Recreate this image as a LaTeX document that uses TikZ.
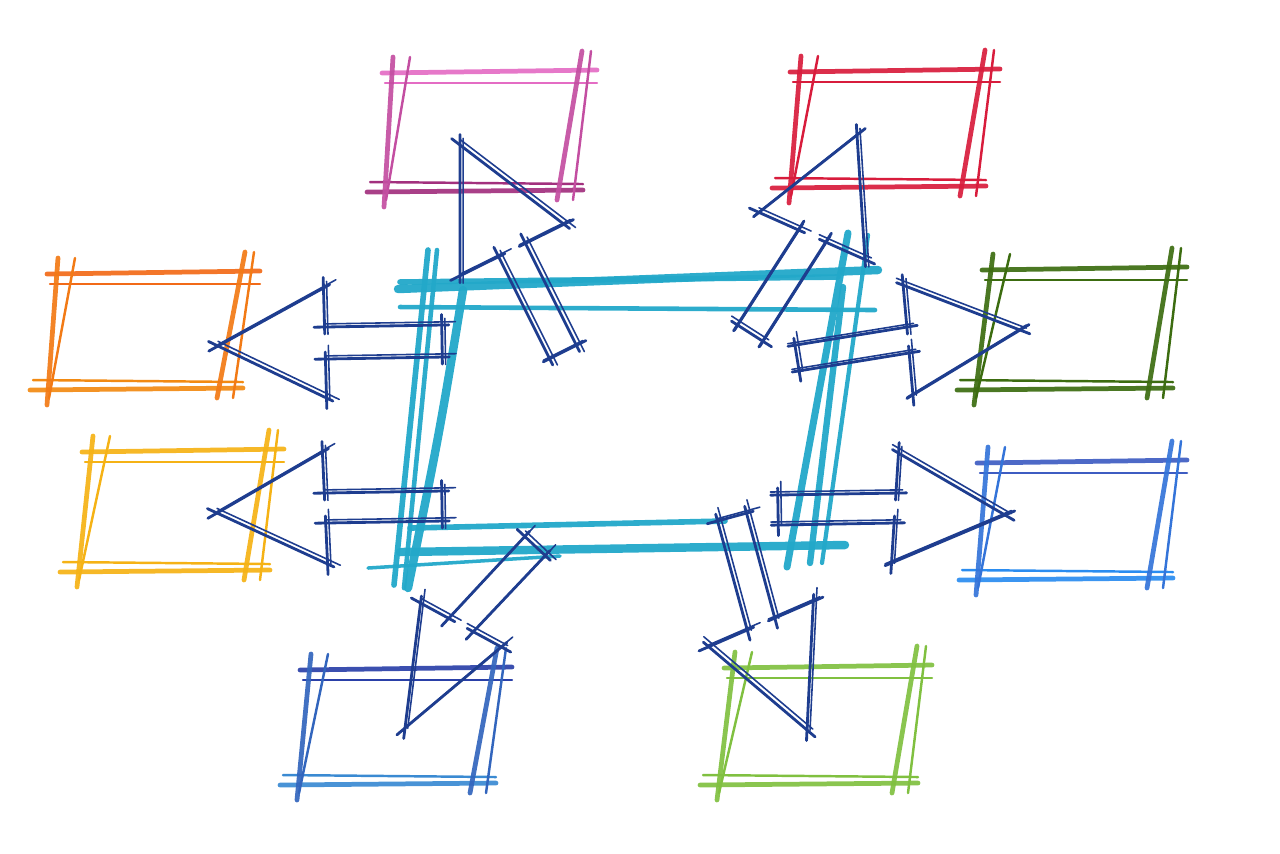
\documentclass[tikz,border=0pt]{standalone}
\usetikzlibrary{calc}

\definecolor{ink}{HTML}{1E3D8F}
\definecolor{hubcyan}{HTML}{22A8C9}
\definecolor{pinktop}{HTML}{E46CC4}
\definecolor{pinkbot}{HTML}{A2307E}
\definecolor{redbox}{HTML}{D81C3C}
\definecolor{orangetop}{HTML}{F26A18}
\definecolor{orangebot}{HTML}{F28A12}
\definecolor{dkgreen}{HTML}{3C6C10}
\definecolor{yellowbox}{HTML}{F5B215}
\definecolor{bluetop}{HTML}{3E5CC2}
\definecolor{bluebot}{HTML}{2A8CF0}
\definecolor{navytop}{HTML}{2A40A8}
\definecolor{navybot}{HTML}{3A8AD2}
\definecolor{lightgreen}{HTML}{80C040}

% one crayon stroke: a firm pass and a faint one beside it
\newcommand\crayon[3]{%
  \draw[#1,line width=.8pt,shorten <=-2pt,shorten >=-3pt] #2 -- #3;
  \draw[#1,line width=.45pt,shorten <=-3pt,shorten >=-1pt,
        transform canvas={xshift=.9pt,yshift=.9pt}] #2 -- #3;
}

% name, top y, bottom y, left x (top, bottom), right x (top, bottom), colours
\newcommand\crayonbox[9]{%
  \coordinate (#1-tl) at (#4,#2);
  \coordinate (#1-tr) at (#6,#2);
  \coordinate (#1-br) at (#7,#3);
  \coordinate (#1-bl) at (#5,#3);
  \draw[#8,crayonbold] ($(#1-tl)+(-18,0)$) -- ($(#1-tr)+(12,-3)$);
  \draw[#8,crayonfine] ($(#1-tl)+(-15,10)$) -- ($(#1-tr)+(12,10)$);
  \draw[#9,crayonfine] ($(#1-bl)+(-15,-10)$) -- ($(#1-br)+(18,-8)$);
  \draw[#9,crayonbold] ($(#1-bl)+(-18,0)$) -- ($(#1-br)+(18,-2)$);
  \draw[#8!50!#9,crayonbold] ($(#1-tl)+(-7,-16)$) -- ($(#1-bl)+(-1,15)$);
  \draw[#8!50!#9,crayonfine] ($(#1-tl)+(10,-16)$) -- ($(#1-bl)+(1,8)$);
  \draw[#8!50!#9,crayonbold] ($(#1-tr)+(-3,-22)$) -- ($(#1-br)+(-8,8)$);
  \draw[#8!50!#9,crayonfine] ($(#1-tr)+(6,-22)$) -- ($(#1-br)+(8,8)$);
}

% name, shaft start, head base, tip, shaft half width, head half width
\newcommand\blockarrow[6]{%
  \coordinate (#1-s) at #2;
  \coordinate (#1-b) at #3;
  \coordinate (#1-t) at #4;
  \coordinate (#1-s1) at ($(#1-s)!#5!90:(#1-b)$);
  \coordinate (#1-s2) at ($(#1-s)!#5!-90:(#1-b)$);
  \coordinate (#1-b1) at ($(#1-b)!#5!90:(#1-t)$);
  \coordinate (#1-b2) at ($(#1-b)!#5!-90:(#1-t)$);
  \coordinate (#1-h1) at ($(#1-b)!#6!90:(#1-t)$);
  \coordinate (#1-h2) at ($(#1-b)!#6!-90:(#1-t)$);
  \crayon{ink}{(#1-s1)}{(#1-s2)}
  \crayon{ink}{(#1-s1)}{(#1-b1)}
  \crayon{ink}{(#1-s2)}{(#1-b2)}
  \crayon{ink}{(#1-b1)}{(#1-h1)}
  \crayon{ink}{(#1-b2)}{(#1-h2)}
  \crayon{ink}{(#1-h1)}{(#1-t)}
  \crayon{ink}{(#1-h2)}{(#1-t)}
}

\begin{document}
\begin{tikzpicture}[x=0.01cm,y=-0.01cm,line cap=round]
  \tikzstyle{crayonbold}=[line width=1.35pt,opacity=.92]
  \tikzstyle{crayonfine}=[line width=.7pt]
  \tikzstyle{hubstroke}=[hubcyan,line width=2.4pt,opacity=.95]
  \useasboundingbox (0,0) rectangle (1280,853);

  % outer boxes
  \crayonbox{pink}{73}{192}{400}{385}{585}{565}{pinktop}{pinkbot}
  \crayonbox{red}{72}{188}{808}{790}{988}{968}{redbox}{redbox}
  \crayonbox{orange}{274}{390}{65}{48}{248}{225}{orangetop}{orangebot}
  \crayonbox{dkgreen}{270}{390}{1000}{975}{1175}{1155}{dkgreen}{dkgreen}
  \crayonbox{yellow}{452}{572}{100}{78}{272}{252}{yellowbox}{yellowbox}
  \crayonbox{blue}{463}{580}{995}{977}{1175}{1155}{bluetop}{bluebot}
  \crayonbox{navy}{670}{785}{318}{298}{500}{478}{navytop}{navybot}
  \crayonbox{green}{668}{785}{742}{718}{920}{900}{lightgreen}{lightgreen}

  % the hub in the middle
  \coordinate (hub-tl) at (430,288);
  \coordinate (hub-tr) at (858,275);
  \coordinate (hub-br) at (815,548);
  \coordinate (hub-bl) at (400,550);
  \draw[hubstroke] ($(hub-tl)+(-32,1)$) -- ($(hub-tr)+(20,-5)$);
  \draw[hubstroke,line width=1.6pt] ($(hub-tl)+(-30,-6)$) -- ($(hub-tr)+(-20,2)$);
  \draw[hubstroke,line width=1.3pt] ($(hub-tl)+(-30,19)$) -- ($(hub-tr)+(17,35)$);
  \draw[hubstroke,line width=1.6pt] ($(hub-bl)+(10,-22)$) -- ($(hub-br)+(-90,-27)$);
  \draw[hubstroke] ($(hub-bl)+(0,2)$) -- ($(hub-br)+(30,-3)$);
  \draw[hubstroke,line width=1pt] ($(hub-bl)+(-32,18)$) -- ($(hub-br)+(-255,8)$);
  \draw[hubstroke,line width=1.6pt] ($(hub-tl)+(-2,-38)$) -- ($(hub-bl)+(-6,35)$);
  \draw[hubstroke,line width=1.3pt] ($(hub-tl)+(7,-38)$) -- ($(hub-bl)+(4,38)$);
  \draw[hubstroke] ($(hub-tl)+(33,2)$) .. controls (440,430) .. ($(hub-bl)+(8,38)$);
  \draw[hubstroke,line width=2pt] ($(hub-tr)+(-10,-42)$) -- ($(hub-br)+(-28,19)$);
  \draw[hubstroke,line width=1.2pt] ($(hub-tr)+(10,-40)$) -- ($(hub-br)+(7,15)$);
  \draw[hubstroke,line width=1.8pt] ($(hub-tr)+(-15,12)$) -- ($(hub-br)+(-5,15)$);

  % arrows out to the boxes
  \blockarrow{toorange}{(442,341)}{(325,343)}{(218,346)}{0.16cm}{0.55cm}
  \blockarrow{toyellow}{(442,506)}{(325,508)}{(217,513)}{0.15cm}{0.56cm}
  \blockarrow{todkgreen}{(797,358)}{(908,340)}{(1020,330)}{0.13cm}{0.55cm}
  \blockarrow{toblue}{(778,510)}{(895,508)}{(1005,515)}{0.15cm}{0.55cm}
  \blockarrow{topink}{(563,352)}{(512,250)}{(460,145)}{0.15cm}{0.58cm}
  \blockarrow{tored}{(750,333)}{(812,236)}{(857,135)}{0.15cm}{0.58cm}
  \blockarrow{tonavy}{(535,546)}{(461,625)}{(405,728)}{0.14cm}{0.46cm}
  \blockarrow{togreen}{(732,517)}{(761,624)}{(807,730)}{0.15cm}{0.57cm}
\end{tikzpicture}
\end{document}
